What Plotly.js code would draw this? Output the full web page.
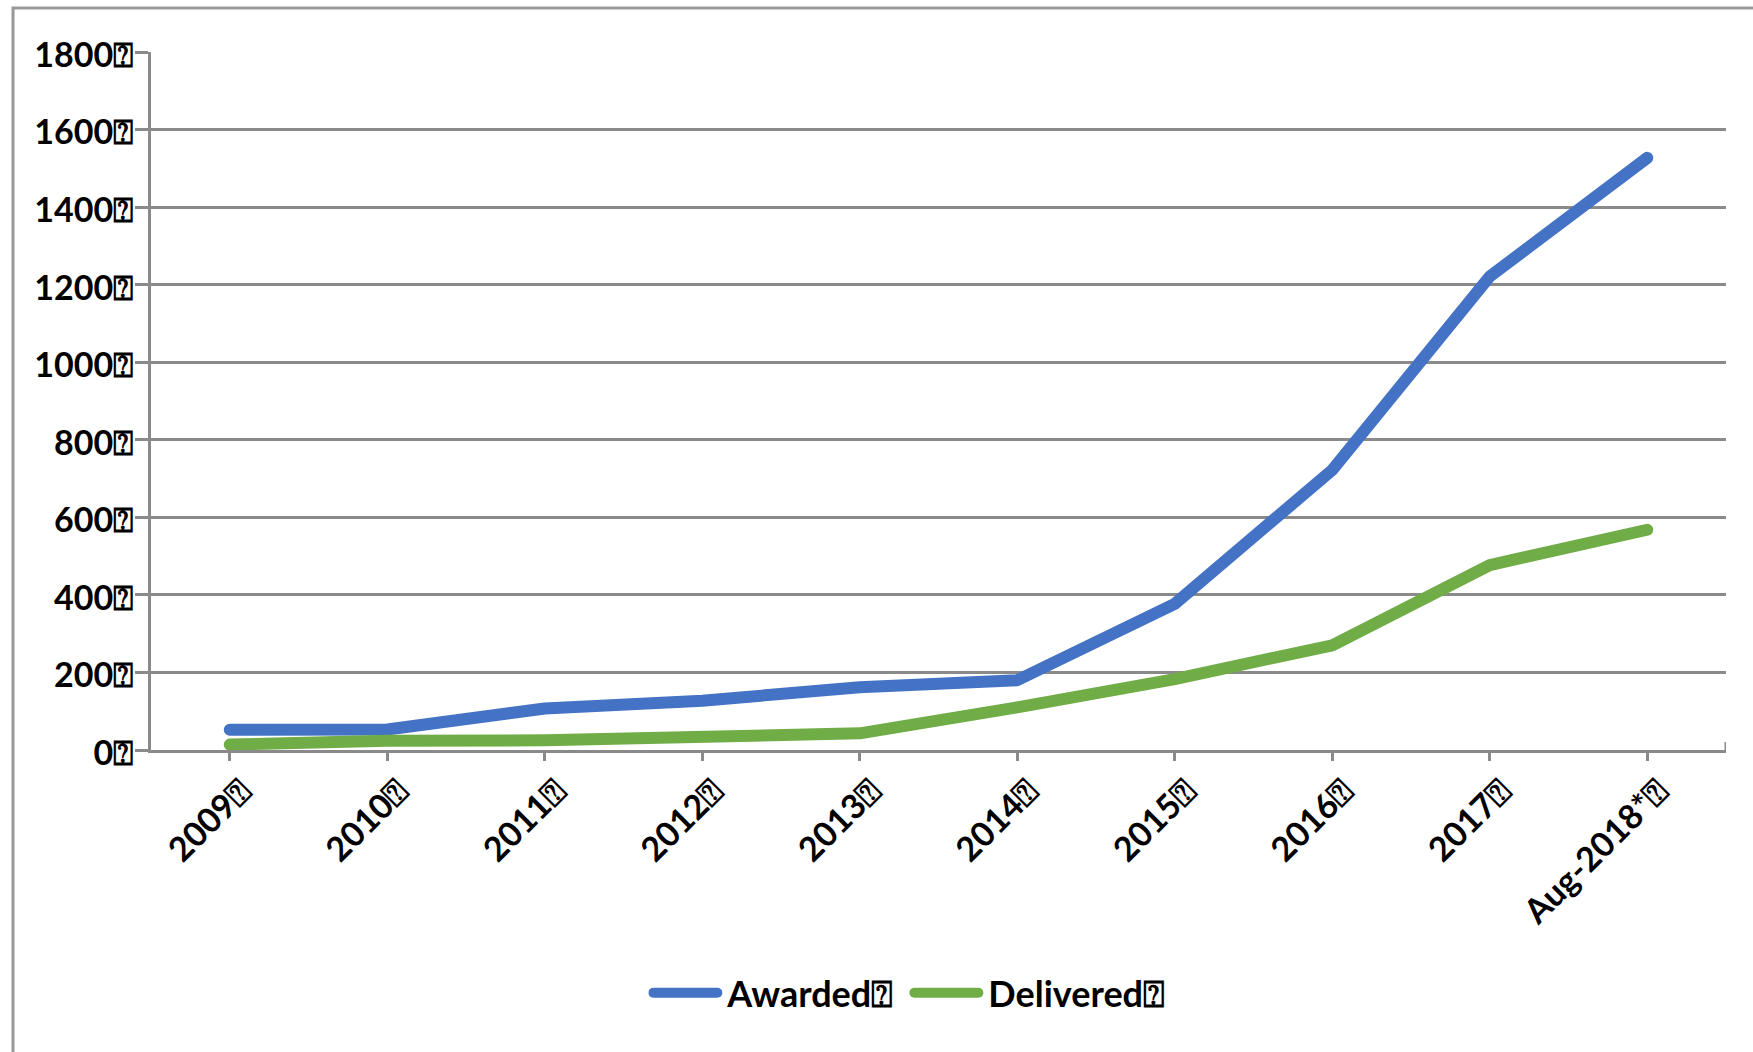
<!DOCTYPE html>
<html>
<head>
<meta charset="utf-8">
<script src="https://cdn.plot.ly/plotly-3.0.1.min.js"></script>
<style>
html,body{margin:0;padding:0;background:#fff;}
#chart{width:1753px;height:1052px;}
.js-line{stroke-linecap:round !important;stroke-linejoin:round !important;}
.legendtext{transform:translateX(5px);}
</style>
</head>
<body>
<div id="chart"></div>
<script>
const categories = ['2009','2010','2011','2012','2013','2014','2015','2016','2017','Aug-2018*'];
const xTickLabels = ['2009⍰','2010⍰','2011⍰','2012⍰','2013⍰','2014⍰','2015⍰','2016⍰','2017⍰','Aug-2018*⍰'];
const awarded = [52, 53, 107, 127, 162, 180, 377, 722, 1221, 1527];
const delivered = [14, 24, 25, 33, 43, 110, 183, 270, 477, 568];
const seriesNames = ['Awarded⍰', 'Delivered⍰'];
const yTickVals = [0, 200, 400, 600, 800, 1000, 1200, 1400, 1600, 1800];
const yTickLabels = ['0⍰','200⍰','400⍰','600⍰','800⍰','1000⍰','1200⍰','1400⍰','1600⍰','1800⍰'];

const grid = '#8a8a8a';
const font = {family: 'Lato, sans-serif', size: 34, color: '#000', weight: 700};
const legendFont = {family: 'Lato, sans-serif', size: 36, color: '#000', weight: 700};

const traces = [
  {x: categories, y: awarded, name: seriesNames[0], type: 'scatter', mode: 'lines',
   line: {color: '#4472C4', width: 12}},
  {x: categories, y: delivered, name: seriesNames[1], type: 'scatter', mode: 'lines',
   line: {color: '#70AD47', width: 12}}
];

const layout = {
  width: 1753, height: 1052,
  margin: {l: 151, r: 27, t: 52, b: 302},
  paper_bgcolor: '#fff', plot_bgcolor: '#fff',
  font: font,
  showlegend: true,
  xaxis: {
    type: 'category', categoryarray: categories, range: [-0.5, 9.5],
    tickvals: categories, ticktext: xTickLabels, tickangle: -45,
    ticklabelshift: 11, ticklabelstandoff: -3,
    showline: true, linecolor: grid, linewidth: 3,
    ticks: 'outside', ticklen: 8, tickwidth: 3, tickcolor: grid,
    showgrid: false, zeroline: false, tickfont: font, fixedrange: true
  },
  xaxis2: {
    type: 'category', categoryarray: categories, range: [-0.5, 9.5],
    overlaying: 'x', anchor: 'y', side: 'bottom',
    tickvals: categories, showticklabels: false,
    ticks: 'inside', ticklen: 8, tickwidth: 3, tickcolor: grid,
    showline: false, showgrid: false, zeroline: false
  },
  yaxis: {
    range: [0, 1800], tickvals: yTickVals, ticktext: yTickLabels,
    ticklabelstandoff: -5, ticklabelshift: 3,
    showgrid: true, gridcolor: grid, gridwidth: 3,
    showline: true, linecolor: grid, linewidth: 3,
    ticks: 'outside', ticklen: 13, tickwidth: 3, tickcolor: grid,
    zeroline: false, tickfont: font, fixedrange: true
  },
  legend: {
    orientation: 'h', x: 0.4815, xanchor: 'center', y: -0.348, yanchor: 'middle',
    font: legendFont, bgcolor: 'rgba(0,0,0,0)', itemwidth: 64,
    entrywidth: 182, entrywidthmode: 'pixels'
  },
  shapes: [
    {type: 'line', xref: 'x', yref: 'y', x0: 9.5, x1: 9.5, ysizemode: 'pixel', yanchor: 0,
     y0: -8, y1: 8, line: {color: grid, width: 3}},
    {type: 'rect', xref: 'paper', yref: 'paper', x0: -0.0876, x1: 1.2, y0: -0.6, y1: 1.063,
     line: {color: '#999', width: 3}, fillcolor: 'rgba(0,0,0,0)', layer: 'below'}
  ]
};

Plotly.newPlot('chart', traces, layout, {displayModeBar: false, staticPlot: true});
</script>
</body>
</html>
